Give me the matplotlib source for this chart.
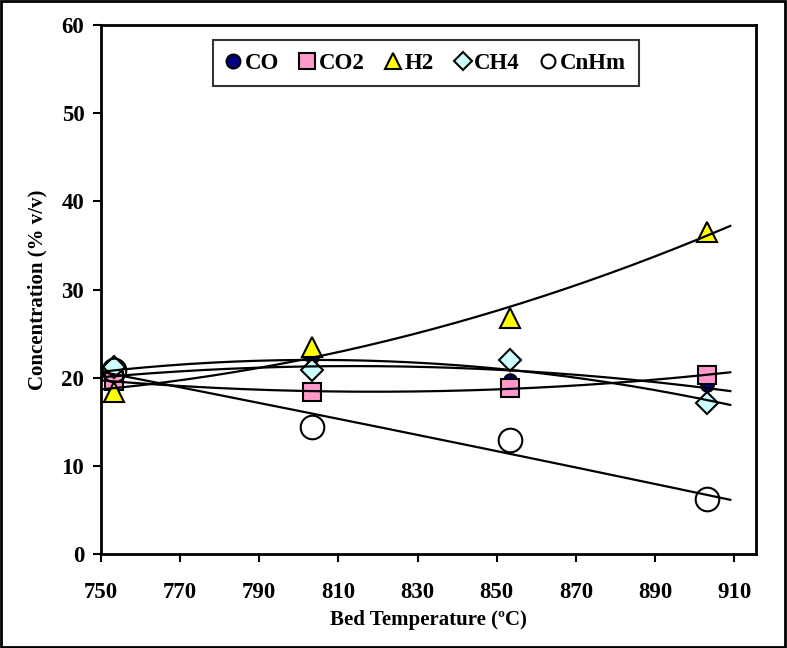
import numpy as np
import matplotlib
matplotlib.use("Agg")
import matplotlib.pyplot as plt
from matplotlib.patches import Rectangle

temps = [753.3, 803.3, 853.3, 903.0]
co = [19.8, 22.4, 19.7, 19.2]
co2 = [19.6, 18.4, 18.8, 20.3]
h2 = [18.4, 23.5, 26.8, 36.5]
ch4 = [21.2, 20.9, 22.0, 17.1]
cnhm = [20.9, 14.4, 12.9, 6.2]
xticks = [750, 770, 790, 810, 830, 850, 870, 890, 910]
yticks = [0, 10, 20, 30, 40, 50, 60]

plt.rcParams['font.family'] = ['Liberation Serif', 'DejaVu Serif']
plt.rcParams['font.weight'] = 'bold'

fig = plt.figure(figsize=(7.87, 6.48), dpi=100)
ax = fig.add_axes([101/787, 1-554/648, (756-101)/787, (554-25)/648])

series = [
    ("CO", co, dict(marker='o', markersize=9, markerfacecolor='#000080'), 10),
    ("CO2", co2, dict(marker='s', markersize=13, markerfacecolor='#FF99CC'), 11),
    ("H2", h2, dict(marker='^', markersize=14, markerfacecolor='#FFFF00'), 12),
    ("CH4", ch4, dict(marker='D', markersize=11, markerfacecolor='#CCFFFF'), 9),
    ("CnHm", cnhm, dict(marker='o', markersize=17, markerfacecolor='none'), 10),
]

xs = np.linspace(750, 909, 200)
for i, (name, vals, st, _) in enumerate(series):
    ax.plot(temps, vals, linestyle='none', markeredgecolor='black',
            markeredgewidth=1.5, label=name, zorder=3 + i, **st)
    c = np.polyfit(temps, vals, 2)
    ax.plot(xs, np.polyval(c, xs), color='black', linewidth=1.6, zorder=10)

ax.set_xlim(750, 915.5)
ax.set_ylim(0, 60)
ax.set_xticks(xticks)
ax.set_yticks(yticks)
ax.tick_params(axis='both', direction='out', length=6, width=1.5, labelsize=16.5, pad=14)
ax.tick_params(axis='y', pad=6)
for s in ax.spines.values():
    s.set_linewidth(2)
ax.set_xlabel("Bed Temperature (ºC)", fontsize=15, fontweight='bold', labelpad=5)
ax.set_ylabel("Concentration (% v/v)", fontsize=15, fontweight='bold', labelpad=10)

leg = ax.legend(loc='upper center', bbox_to_anchor=(426/655 - 101/655, (554-40)/529), ncol=5,
                frameon=True, fancybox=False, handlelength=0.6,
                handletextpad=0.2, columnspacing=0.95, borderpad=0.55, borderaxespad=0,
                prop={'weight': 'bold', 'size': 16.5})
leg.get_frame().set_edgecolor('black')
leg.get_frame().set_linewidth(1.5)
for h, (_, _, _, ms) in zip(leg.legend_handles, series):
    h.set_markersize(ms)

fig.patches.append(Rectangle((0.001, 0.001), 0.997, 0.997, transform=fig.transFigure,
                             fill=False, edgecolor='black', linewidth=2))

fig.savefig("out.png", dpi=100)
